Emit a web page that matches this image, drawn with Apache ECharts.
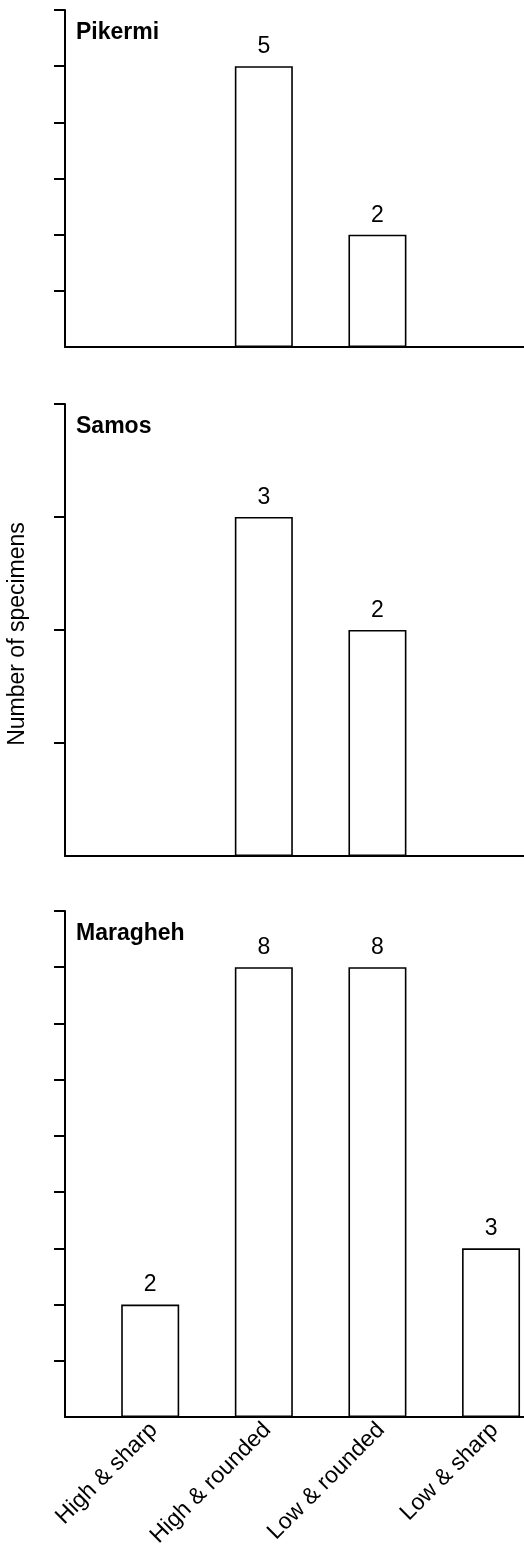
<!DOCTYPE html>
<html>
<head>
<meta charset="utf-8">
<script src="https://cdn.jsdelivr.net/npm/echarts@6/dist/echarts.min.js"></script>
<style>
html,body{margin:0;padding:0;background:#fff;}
#chart{width:524px;height:1548px;}
</style>
</head>
<body>
<div id="chart"></div>
<script>
const categories = ['High & sharp', 'High & rounded', 'Low & rounded', 'Low & sharp'];
const sites = ['Pikermi', 'Samos', 'Maragheh'];
const pikermi = [0, 5, 2, 0];
const samos = [0, 3, 2, 0];
const maragheh = [2, 8, 8, 3];
const yMax = [6, 4, 9];
const yAxisTitle = 'Number of specimens';

const seriesValues = [pikermi, samos, maragheh];
const FONT = 'Liberation Sans, Arial, Helvetica, sans-serif';
const gridBoxes = [
  { top: 10, height: 337 },
  { top: 404, height: 452 },
  { top: 911, height: 506 }
];

const chart = echarts.init(document.getElementById('chart'), null, { renderer: 'canvas' });

const option = {
  animation: false,
  backgroundColor: '#fff',
  textStyle: { fontFamily: FONT, color: '#000' },
  title: sites.map((s, i) => ({
    text: s,
    left: 76,
    top: gridBoxes[i].top + 11,
    padding: 0,
    textStyle: { fontFamily: FONT, fontSize: 23, fontWeight: 'bold', color: '#000' }
  })),
  grid: gridBoxes.map(g => ({
    left: 65, right: 0, top: g.top, height: g.height,
    containLabel: false, outerBoundsMode: 'none'
  })),
  xAxis: sites.map((s, i) => ({
    type: 'value',
    gridIndex: i,
    min: 0.25,
    max: 4.29,
    splitLine: { show: false },
    axisTick: { show: false },
    axisLine: { show: true, onZero: false, lineStyle: { color: '#000', width: 2 } },
    axisLabel: i === 2 ? {
      show: true,
      customValues: categories.map((c, k) => k + 1),
      formatter: v => categories[Math.round(v) - 1] || '',
      rotate: 45,
      margin: 13,
      padding: [0, -5, 0, 0],
      fontSize: 23,
      fontFamily: FONT,
      color: '#000'
    } : { show: false }
  })),
  yAxis: sites.map((s, i) => ({
    type: 'value',
    gridIndex: i,
    min: 0,
    max: yMax[i],
    interval: 1,
    splitLine: { show: false },
    axisLine: { show: true, lineStyle: { color: '#000', width: 2 } },
    axisTick: {
      show: true,
      length: 11,
      lineStyle: { color: '#000', width: 2 },
      customValues: Array.from({ length: yMax[i] }, (_, k) => k + 1)
    },
    axisLabel: { show: false },
    name: i === 1 ? yAxisTitle : '',
    nameLocation: 'middle',
    nameGap: 36,
    nameTextStyle: { fontFamily: FONT, fontSize: 23, color: '#000', padding: [0, 8, 0, 0] }
  })),
  series: seriesValues.map((vals, i) => ({
    type: 'bar',
    xAxisIndex: i,
    yAxisIndex: i,
    barWidth: 58,
    data: vals.map((v, k) => [k + 1, v]).filter(d => d[1] > 0),
    itemStyle: { color: '#fff', borderColor: '#000', borderWidth: 1.6 },
    label: {
      show: true,
      position: 'top',
      distance: 8,
      fontFamily: FONT,
      fontSize: 23,
      color: '#000',
      formatter: p => String(p.value[1])
    }
  }))
};

chart.setOption(option);
</script>
</body>
</html>
